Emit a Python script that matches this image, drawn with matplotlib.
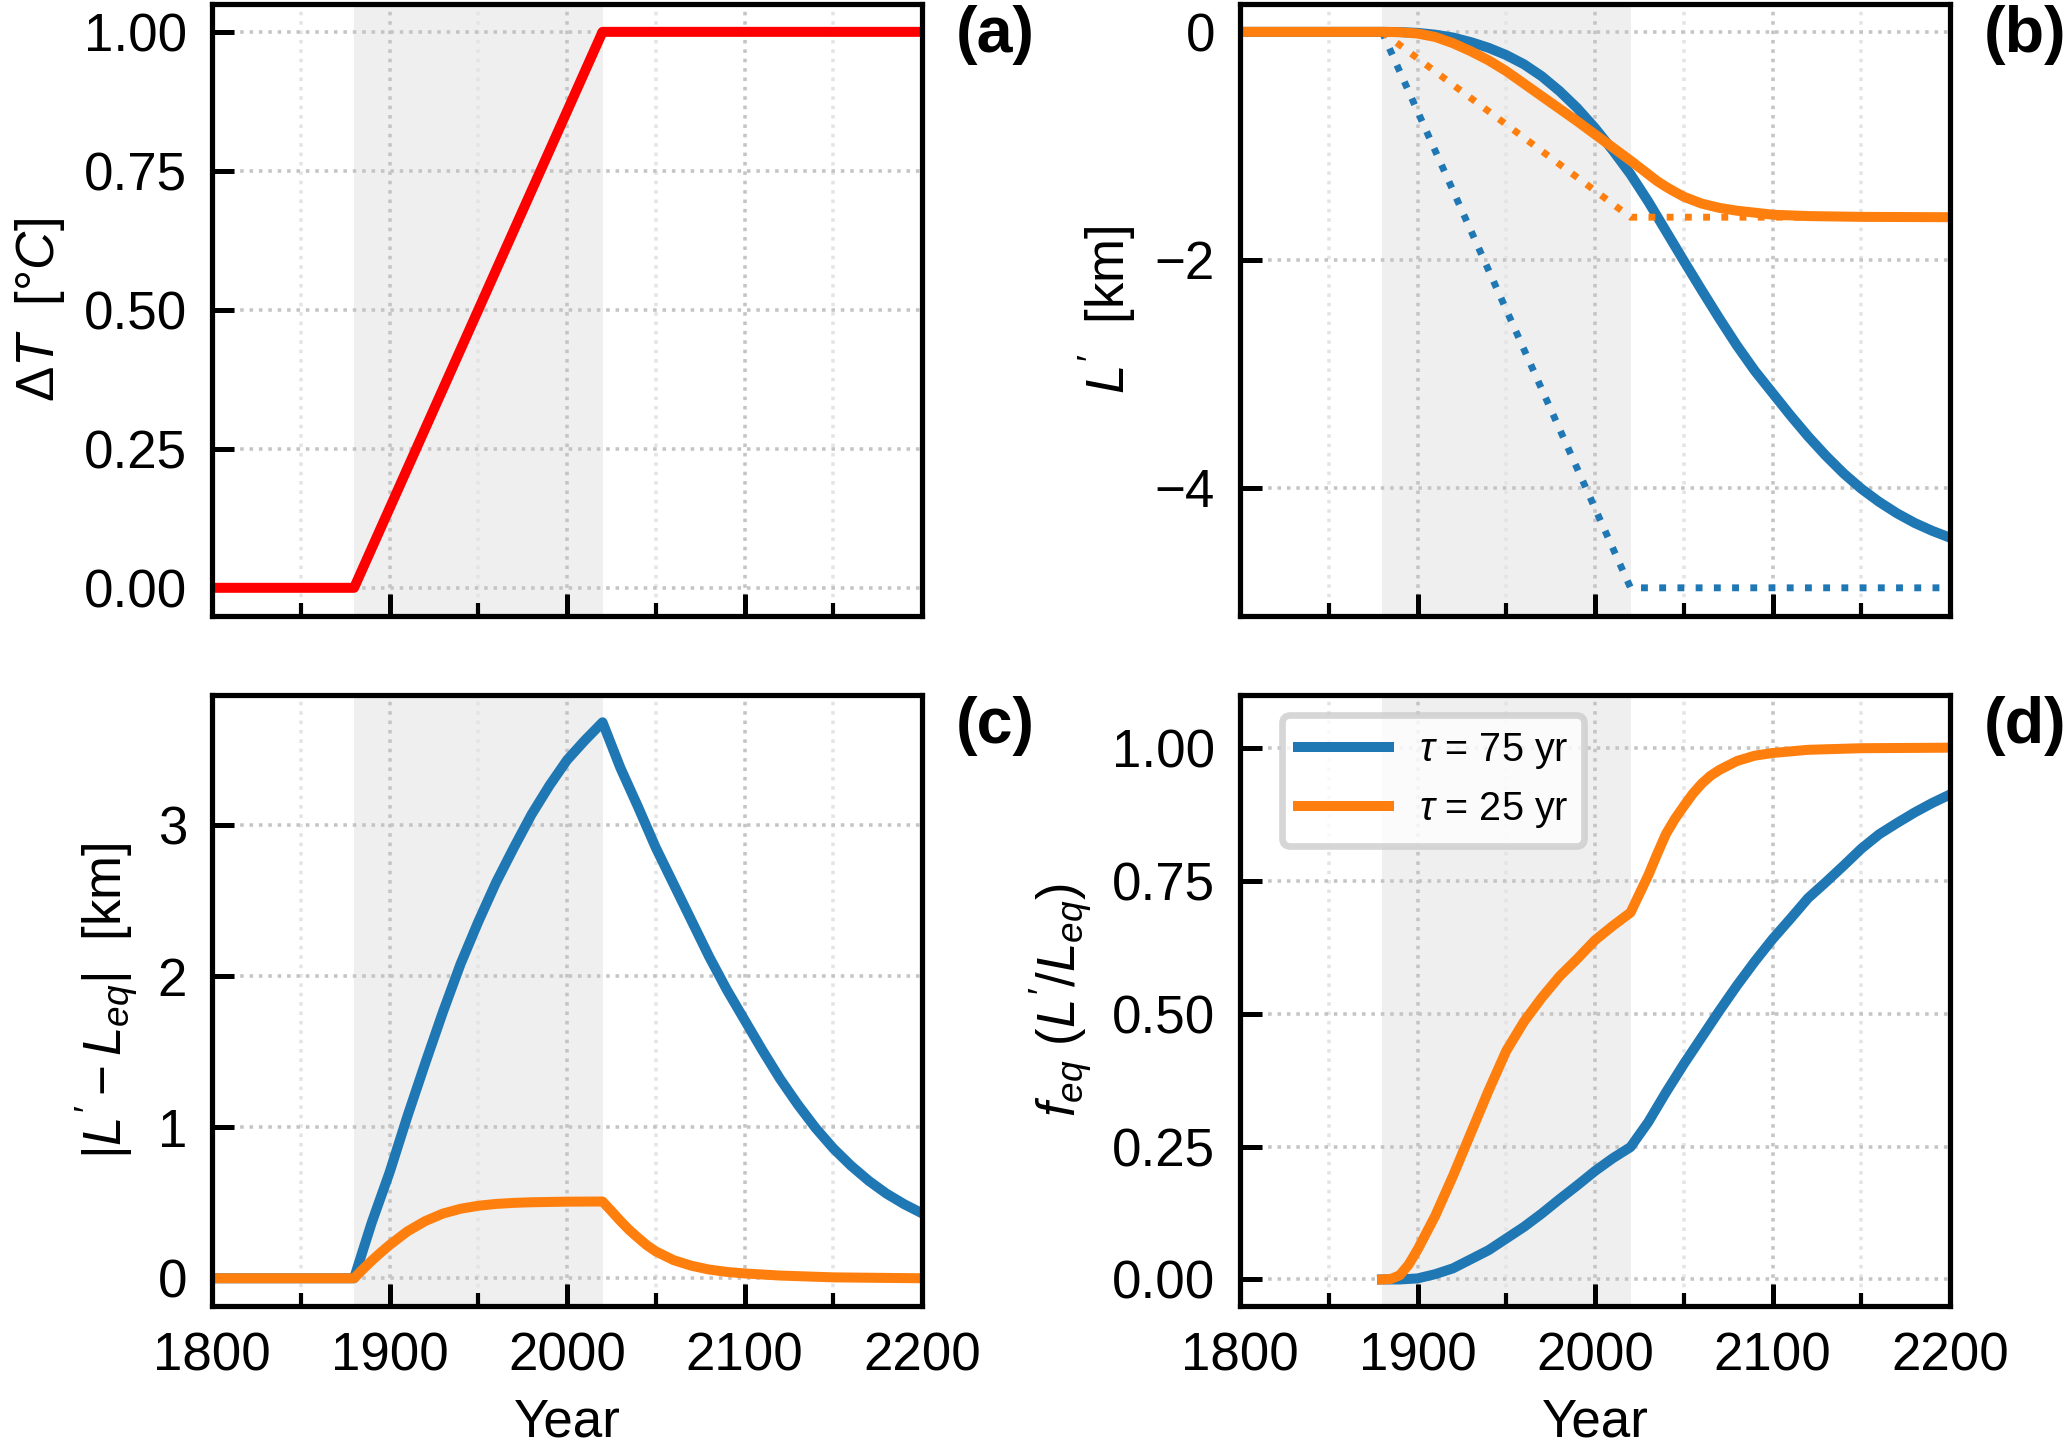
import matplotlib
matplotlib.use("Agg")
import matplotlib.pyplot as plt
from matplotlib.ticker import MultipleLocator

plt.rcParams['font.family'] = ['Liberation Sans', 'DejaVu Sans']
plt.rcParams['mathtext.fontset'] = 'custom'
plt.rcParams['mathtext.rm'] = 'Liberation Sans'
plt.rcParams['mathtext.it'] = 'Liberation Sans:italic'
plt.rcParams['mathtext.bf'] = 'Liberation Sans:bold'

blue = '#1f77b4'
orange = '#ff7f0e'

# (a) temperature forcing
yr_T = [1800, 1880, 2020, 2200]
dT = [0.0, 0.0, 1.0, 1.0]

# equilibrium length change (dotted lines in b)
yr_eq = [1880, 2020, 2200]
Leq_75 = [0.0, -4.88, -4.88]
Leq_25 = [0.0, -1.627, -1.627]

# 10-year grid used for the tau = 75 yr curves
years = [1800, 1880, 1890, 1900, 1910, 1920, 1930, 1940, 1950, 1960, 1970,
         1980, 1990, 2000, 2010, 2020, 2030, 2040, 2050, 2060, 2070, 2080,
         2090, 2100, 2110, 2120, 2130, 2140, 2150, 2160, 2170, 2180, 2190, 2200]

# (b) length anomaly L'
L_75 = [0.0, 0.0, -0.002, -0.009, -0.025, -0.05, -0.09, -0.14, -0.204, -0.285, -0.39,
        -0.52, -0.67, -0.845, -1.04, -1.25, -1.49, -1.75, -2.01, -2.265, -2.515, -2.755,
        -2.975, -3.17, -3.365, -3.55, -3.72, -3.875, -4.01, -4.125, -4.225, -4.31, -4.38, -4.44]

yr_b25 = [1800, 1880, 1890, 1900, 1910, 1920, 1930, 1940, 1950, 1960, 1970, 1980,
          1990, 2000, 2010, 2020, 2025, 2030, 2035, 2040, 2045, 2050, 2060, 2070,
          2080, 2090, 2100, 2120, 2150, 2200]
L_25 = [0.0, 0.0, -0.003, -0.015, -0.045, -0.10, -0.17, -0.25, -0.345, -0.455, -0.565, -0.675,
        -0.785, -0.90, -1.015, -1.13, -1.19, -1.25, -1.31, -1.36, -1.405, -1.447, -1.507, -1.545,
        -1.57, -1.587, -1.605, -1.617, -1.624, -1.627]

# (c) disequilibrium |L' - Leq|
D_75 = [0.0, 0.0, 0.37, 0.70, 1.07, 1.42, 1.76, 2.08, 2.36, 2.62, 2.85,
        3.07, 3.26, 3.43, 3.56, 3.68, 3.38, 3.12, 2.85, 2.61, 2.37, 2.13,
        1.91, 1.71, 1.51, 1.32, 1.15, 0.995, 0.86, 0.745, 0.645, 0.56, 0.49, 0.43]

yr_c25 = [1800, 1880, 1885, 1890, 1895, 1900, 1910, 1920, 1930, 1940, 1950, 1960,
          1970, 1980, 2000, 2020, 2025, 2030, 2035, 2040, 2045, 2050, 2060, 2070,
          2080, 2090, 2100, 2120, 2150, 2200]
D_25 = [0.0, 0.0, 0.06, 0.117, 0.17, 0.22, 0.31, 0.378, 0.428, 0.46, 0.48, 0.492,
        0.499, 0.503, 0.507, 0.508, 0.445, 0.38, 0.32, 0.268, 0.218, 0.178, 0.12, 0.083,
        0.058, 0.042, 0.032, 0.018, 0.006, 0.0]

# (d) fraction of equilibrium reached (starts at ramp onset)
yr_f75 = years[1:]
f_75 = [0.0, 0.0, 0.002, 0.01, 0.021, 0.038, 0.055, 0.077, 0.099, 0.124,
        0.151, 0.177, 0.204, 0.228, 0.249, 0.296, 0.352, 0.405, 0.455, 0.505, 0.553,
        0.598, 0.64, 0.678, 0.717, 0.747, 0.778, 0.81, 0.837, 0.858, 0.878, 0.896, 0.912]

yr_f25 = [1880, 1885, 1890, 1895, 1900, 1910, 1920, 1930, 1940, 1950, 1960, 1970,
          1980, 1990, 2000, 2010, 2020, 2030, 2035, 2040, 2045, 2050, 2055, 2060,
          2065, 2070, 2080, 2090, 2100, 2120, 2150, 2200]
f_25 = [0.0, 0.001, 0.008, 0.028, 0.056, 0.12, 0.195, 0.275, 0.355, 0.43, 0.485, 0.53,
        0.57, 0.603, 0.638, 0.665, 0.69, 0.76, 0.80, 0.838, 0.866, 0.89, 0.913, 0.932,
        0.947, 0.958, 0.975, 0.985, 0.99, 0.996, 0.999, 1.0]

labels = [r'$\tau$ = 75 yr', r'$\tau$ = 25 yr']

fig, axs = plt.subplots(2, 2, figsize=(2067 / 300, 1447 / 300), dpi=300, sharex=True)
plt.subplots_adjust(left=0.1026, right=0.9434, top=0.9972, bottom=0.0974,
                    wspace=0.448, hspace=0.129)
ax_a, ax_b, ax_c, ax_d = axs.flat

lw = 2.4
ax_a.plot(yr_T, dT, color='red', lw=lw)

ax_b.plot(years, L_75, color=blue, lw=lw)
ax_b.plot(yr_eq, Leq_75, color=blue, lw=1.65, ls=':')
ax_b.plot(yr_b25, L_25, color=orange, lw=lw)
ax_b.plot(yr_eq, Leq_25, color=orange, lw=1.65, ls=':')

ax_c.plot(years, D_75, color=blue, lw=lw)
ax_c.plot(yr_c25, D_25, color=orange, lw=lw)

ax_d.plot(yr_f75, f_75, color=blue, lw=lw, label=labels[0])
ax_d.plot(yr_f25, f_25, color=orange, lw=lw, label=labels[1])

fs = 12.7
for ax, tag in zip(axs.flat, ['(a)', '(b)', '(c)', '(d)']):
    ax.axvspan(1880, 2020, color='#efefef', lw=0, zorder=0)
    ax.set_xlim(1800, 2200)
    ax.xaxis.set_major_locator(MultipleLocator(100))
    ax.xaxis.set_minor_locator(MultipleLocator(50))
    ax.grid(which='major', ls=':', lw=0.85, color='#c4c4c4')
    ax.grid(which='minor', axis='x', ls=':', lw=0.85, color='#e4e4e4')
    ax.tick_params(which='both', direction='in', top=False, right=False,
                   labelsize=fs, pad=6)
    ax.tick_params(which='major', length=5.2, width=1.2)
    ax.tick_params(which='minor', length=3.2, width=1.0)
    for s in ax.spines.values():
        s.set_linewidth(1.25)
    ax.text(1.048, 0.998, tag, transform=ax.transAxes, ha='left', va='top',
            fontsize=15.5, fontweight='bold')

ax_a.set_yticks([0, 0.25, 0.5, 0.75, 1.0])
ax_b.set_yticks([0, -2, -4])
ax_c.set_yticks([0, 1, 2, 3])
ax_d.set_yticks([0, 0.25, 0.5, 0.75, 1.0])
ax_d.set_ylim(-0.05, 1.1)

ax_a.set_ylabel(r'$\Delta T$  [°$C$]', fontsize=fs)
ax_b.set_ylabel(r"$L'$  [km]", fontsize=fs)
ax_c.set_ylabel(r"$|L' - L_{eq}|$  [km]", fontsize=fs)
ax_d.set_ylabel(r"$f_{eq}$ $(L'/L_{eq})$", fontsize=fs)
ax_c.set_xlabel('Year', fontsize=fs)
ax_d.set_xlabel('Year', fontsize=fs)

leg = ax_d.legend(loc='upper left', bbox_to_anchor=(0.059, 0.967), borderaxespad=0,
                  fontsize=9.5, handlelength=2.3, handletextpad=0.75)
leg.get_frame().set_linewidth(1.6)

fig.savefig('out.png', dpi=300)
